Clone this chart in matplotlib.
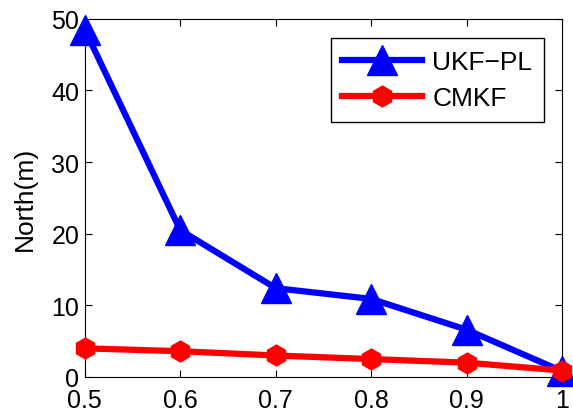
import matplotlib.pyplot as plt

plt.rcParams['font.family'] = ['Liberation Sans', 'DejaVu Sans']

x = [0.5, 0.6, 0.7, 0.8, 0.9, 1.0]
ukf_pl = [48.5, 20.5, 12.4, 10.9, 6.6, 0.8]
cmkf = [4.0, 3.6, 3.0, 2.5, 2.0, 0.9]

fig = plt.figure(figsize=(5.73, 4.14), dpi=100)
ax = fig.add_axes([0.148, 0.087, 0.833, 0.865])

ax.plot(x, ukf_pl, color='blue', linewidth=4.5, marker='^', markersize=21,
        label='UKF\u2212PL', clip_on=False, zorder=3)
ax.plot(x, cmkf, color='red', linewidth=4.5, marker='h', markersize=15,
        label='CMKF', clip_on=False, zorder=4)

ax.set_xlim(0.5, 1.0)
ax.set_ylim(0, 50)
ax.set_xticks([0.5, 0.6, 0.7, 0.8, 0.9, 1.0])
ax.set_xticklabels(['0.5', '0.6', '0.7', '0.8', '0.9', '1'])
ax.set_yticks([0, 10, 20, 30, 40, 50])
ax.tick_params(direction='in', top=True, right=True, labelsize=18, length=5, pad=4)
ax.tick_params(axis='x', pad=8)
ax.set_ylabel('North(m)', fontsize=19, labelpad=10)

# legend box: right edge ~544px, top ~39px in the 573x414 picture
leg = ax.legend(loc='upper right', bbox_to_anchor=(544 / 573, 1 - 39 / 414),
                bbox_transform=fig.transFigure, fontsize=19, fancybox=False,
                edgecolor='black', framealpha=1, handlelength=3.0, borderaxespad=0,
                handletextpad=0.4, borderpad=0.45, labelspacing=0.45)
leg.get_frame().set_linewidth(1)

fig.savefig('out.png', dpi=100)
